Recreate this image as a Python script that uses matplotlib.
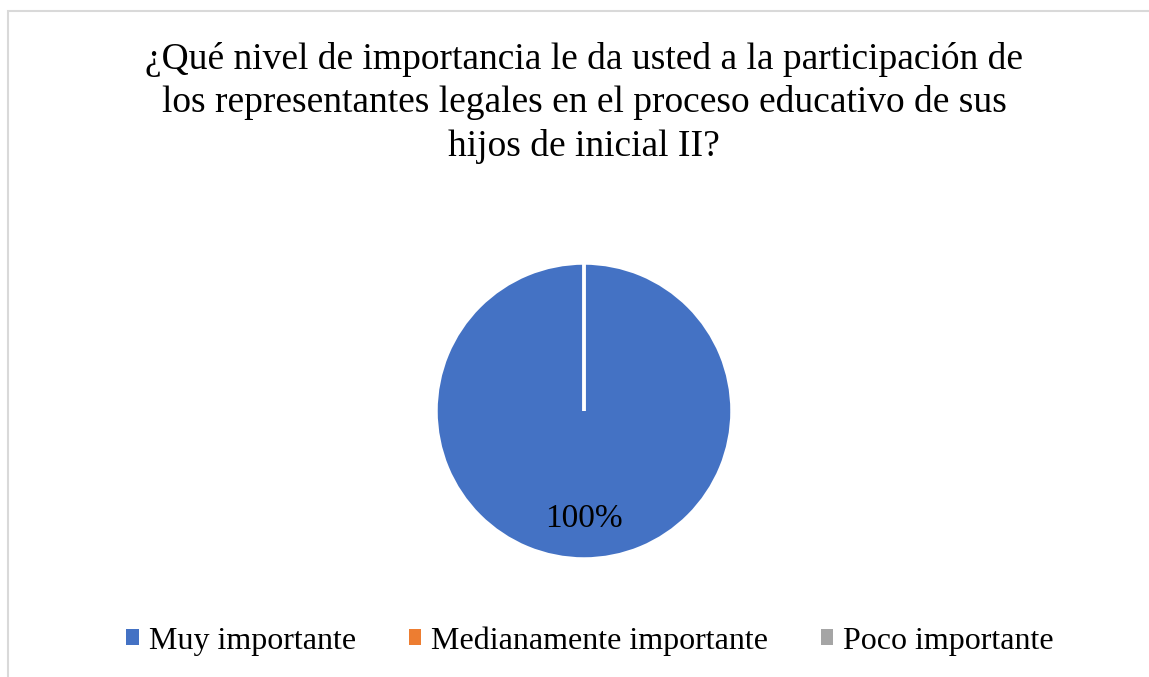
import matplotlib.pyplot as plt
from matplotlib.patches import Rectangle

# Data
LABELS = ['Muy importante', 'Medianamente importante', 'Poco importante']
VALUES = [100, 0, 0]
COLORS = ['#4472C4', '#ED7D31', '#A5A5A5']
TITLE = ('¿Qué nivel de importancia le da usted a la participación de\n'
         'los representantes legales en el proceso educativo de sus\n'
         'hijos de inicial II?')

plt.rcParams['font.family'] = ['Liberation Serif', 'DejaVu Serif']

W, H = 1149, 677
my_dpi = 100
fig = plt.figure(figsize=(W / my_dpi, H / my_dpi), dpi=my_dpi)

# chart border (cut at right/bottom like the reference)
fig.patches.append(Rectangle((7.5 / W, -0.1), 1.2, 1 - 10.5 / H + 0.1,
                             transform=fig.transFigure, fill=False,
                             edgecolor='#D9D9D9', linewidth=1.5))

fig.text(584 / W, 1 - 103 / H, TITLE, ha='center', va='center',
         fontsize=27, linespacing=1.31)

# pie axes: center (584, 411), radius 148 px
r = 148
ax = fig.add_axes([(584 - r) / W, (H - 411 - r) / H, 2 * r / W, 2 * r / H])


def fmt(p):
    return '{:.0f}%'.format(p) if p > 0 else ''


wedges, texts, autotexts = ax.pie(VALUES, colors=COLORS, startangle=90,
                                  counterclock=False, autopct=fmt,
                                  pctdistance=0.73,
                                  wedgeprops=dict(edgecolor='white', linewidth=2.5),
                                  textprops=dict(fontsize=24, color='black'))
ax.set_xlim(-1.0, 1.0)
ax.set_ylim(-1.0, 1.0)

fig.legend(wedges, LABELS, loc='center', bbox_to_anchor=(590 / W, 1 - 641 / H),
           ncol=3, frameon=False, fontsize=23, handlelength=0.4, handleheight=0.4,
           handletextpad=0.3, columnspacing=1.65)
for h in fig.legends[0].legend_handles:
    h.set_edgecolor('none')

plt.savefig('out.png', dpi=my_dpi)
